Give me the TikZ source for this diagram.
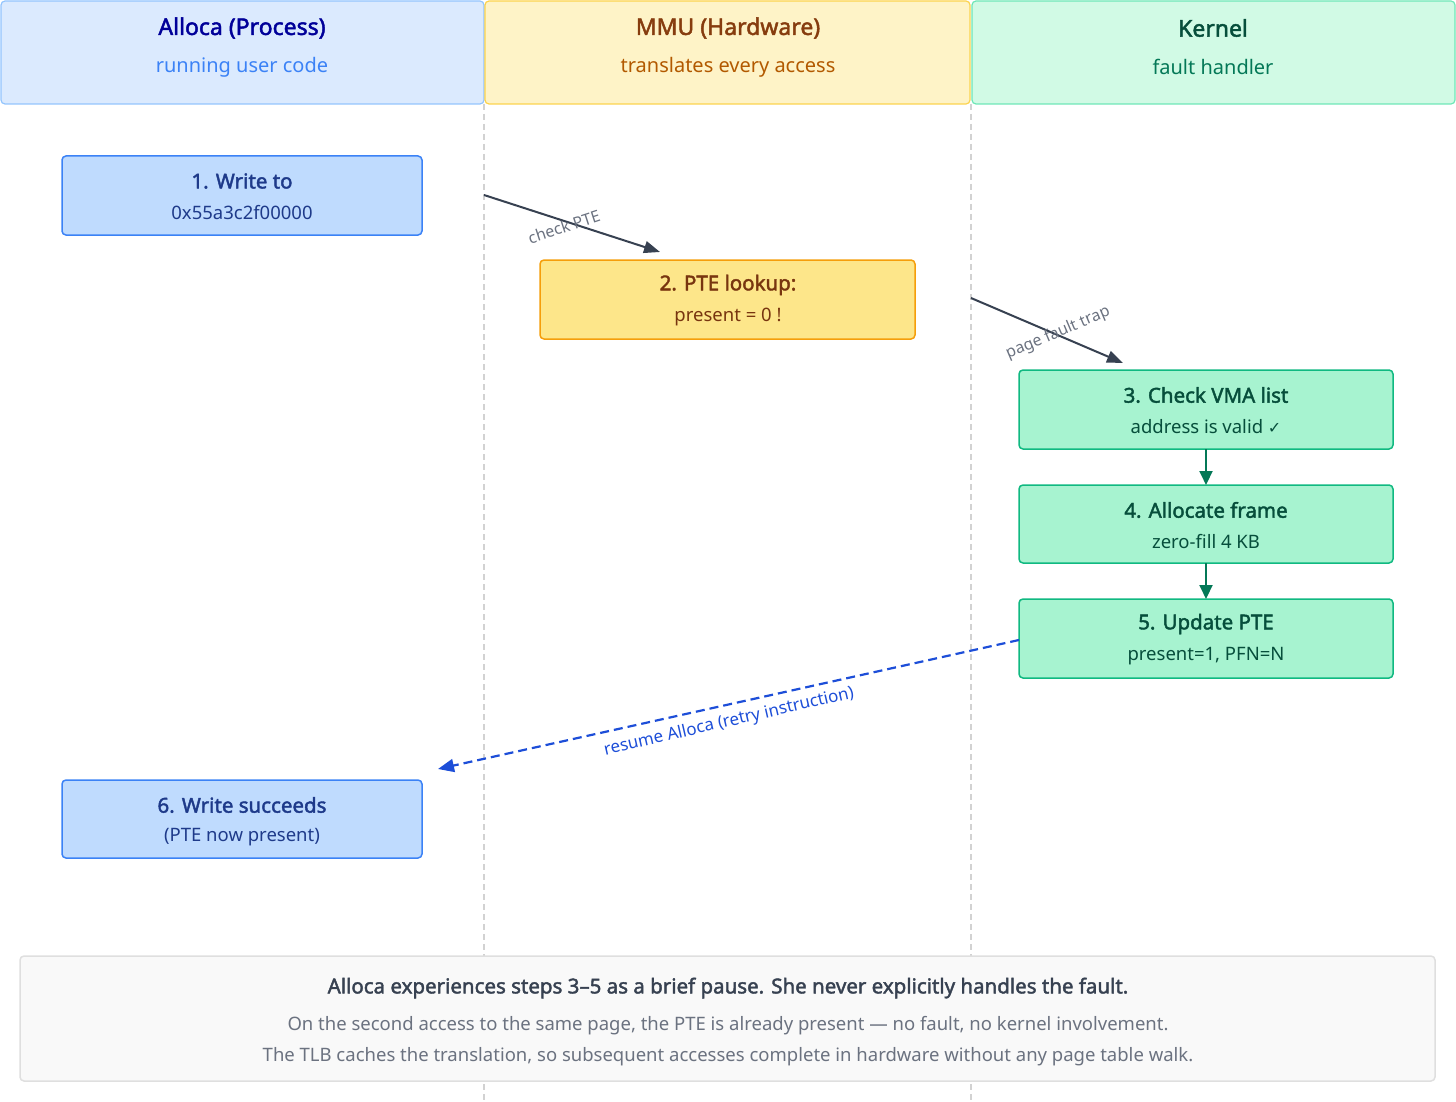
\documentclass[tikz,border=0pt]{standalone}
\usepackage{fontspec}
\setmainfont{Noto Sans}[AutoFakeBold=2]
\newfontfamily\djv{DejaVu Sans}
\usetikzlibrary{arrows.meta}
\definecolor{hb}{HTML}{DBEAFE}\definecolor{hbd}{HTML}{93C5FD}
\definecolor{hy}{HTML}{FEF3C7}\definecolor{hyd}{HTML}{FCD34D}
\definecolor{hg}{HTML}{D1FAE5}\definecolor{hgd}{HTML}{6EE7B7}
\definecolor{bb}{HTML}{BFDBFE}\definecolor{bbd}{HTML}{3B82F6}\definecolor{bbt}{HTML}{1E3A8A}
\definecolor{yb}{HTML}{FDE68A}\definecolor{ybd}{HTML}{F59E0B}\definecolor{ybt}{HTML}{78350F}
\definecolor{gb}{HTML}{A7F3D0}\definecolor{gbd}{HTML}{10B981}\definecolor{gbt}{HTML}{064E3B}
\definecolor{arr}{HTML}{374151}\definecolor{lab}{HTML}{6B7280}
\definecolor{garr}{HTML}{047857}\definecolor{barr}{HTML}{1D4ED8}
\begin{document}
\begin{tikzpicture}[x=1pt,y=-1pt,
 hdr/.style={draw=#1d,fill=#1,rounded corners=4pt,line width=1.2pt},
 box/.style={draw=#1d,fill=#1,rounded corners=4pt,line width=1.5pt},
 ttl/.style={font=\fontsize{23}{26}\selectfont\bfseries},
 sub/.style={font=\fontsize{20}{24}\selectfont},
 bt/.style={font=\fontsize{20.5}{24}\selectfont\bfseries},
 bs/.style={font=\fontsize{18.5}{22}\selectfont},
 lbl/.style={font=\fontsize{16}{19}\selectfont,text=lab},
 ar/.style={draw=arr,line width=2pt,-{Triangle[length=16pt,width=12pt]}}]
\useasboundingbox (0,0) rectangle (1456,1102);
\draw[dashed,dash pattern=on 6pt off 4pt,draw=gray!35,line width=1.5pt] (484,104) -- (484,1102) (971,104) -- (971,1102);
\draw[hdr=hb] (1,1) rectangle (484,104);
\draw[hdr=hy] (485,1) rectangle (970,104);
\draw[hdr=hg] (972,1) rectangle (1455,104);
\node[ttl,text=blue!60!black] (t1) at (242,28) {Alloca (Process)};
\node[sub,text=bbd] (s1) at (242,67) {running user code};
\node[ttl,text=ybt!90!orange] (t2) at (728,28) {MMU (Hardware)};
\node[sub,text=orange!70!black] (s2) at (728,67) {translates every access};
\node[ttl,text=gbt] (t3) at (1213,28) {Kernel};
\node[sub,text=garr] (s3) at (1213,67) {fault handler};
\foreach \n/\c/\xa/\ya/\xb/\yb in {b1/bb/62/156/422/235, b2/yb/540/260/915/339, b3/gb/1019/370/1393/449, b4/gb/1019/485/1393/563, b5/gb/1019/599/1393/678, b6/bb/62/780/422/858}
  \draw[box=\c] (\xa,\yb) rectangle (\xb,\ya) coordinate[pos=.5] (\n);
\node[bt,text=bbt] at (242,181) {1. Write to};
\node[bs,text=bbt] at (242,213) {0x55a3c2f00000};
\node[bt,text=ybt] at (728,285) {2. PTE lookup:};
\node[bs,text=ybt] at (728,317) {present = 0 !};
\node[bt,text=gbt] at (1206,395) {3. Check VMA list};
\node[bs,text=gbt] at (1206,427) {address is valid {\djv\fontsize{16}{19}\selectfont ✓}};
\node[bt,text=gbt] at (1206,510) {4. Allocate frame};
\node[bs,text=gbt] at (1206,542) {zero-fill 4 KB};
\node[bt,text=gbt] at (1206,624) {5. Update PTE};
\node[bs,text=gbt] at (1206,656) {present=1, PFN=N};
\node[bt,text=bbt] at (242,805) {6. Write succeeds};
\node[bs,text=bbt] at (242,837) {(PTE now present)};
\coordinate (a1s) at (484,195); \coordinate (a1e) at (660,252);
\coordinate (a2s) at (971,298); \coordinate (a2e) at (1123,363);
\draw[ar] (a1s) -- (a1e);
\node[lbl,rotate=18] at (564,227) {check PTE};
\draw[ar] (a2s) -- (a2e);
\node[lbl,rotate=23] at (1058,333) {page fault trap};
\coordinate (g3) at (1206,449); \coordinate (g4t) at (1206,485);
\coordinate (g4) at (1206,563); \coordinate (g5t) at (1206,599);
\draw[draw=garr,line width=2pt,-{Triangle[length=14pt,width=13pt]}] (g3) -- (g4t);
\draw[draw=garr,line width=2pt,-{Triangle[length=14pt,width=13pt]}] (g4) -- (g5t);
\coordinate (r1) at (1019,640); \coordinate (r2) at (438,769);
\draw[draw=barr,line width=2.2pt,dash pattern=on 9pt off 5pt,-{Triangle[length=16pt,width=13pt]}] (r1) -- (r2);
\node[font=\fontsize{17}{20}\selectfont,text=barr,rotate=13] at (729,722) {resume Alloca (retry instruction)};
\draw[draw=gray!25,fill=gray!5,rounded corners=4pt,line width=1.5pt] (20,956) rectangle (1435,1081);
\node[font=\fontsize{20.5}{24}\selectfont\bfseries,text=arr] at (728,988) {Alloca experiences steps 3–5 as a brief pause. She never explicitly handles the fault.};
\node[bs,text=lab] at (728,1026) {On the second access to the same page, the PTE is already present — no fault, no kernel involvement.};
\node[bs,text=lab] at (728,1057) {The TLB caches the translation, so subsequent accesses complete in hardware without any page table walk.};
\end{tikzpicture}
\end{document}
